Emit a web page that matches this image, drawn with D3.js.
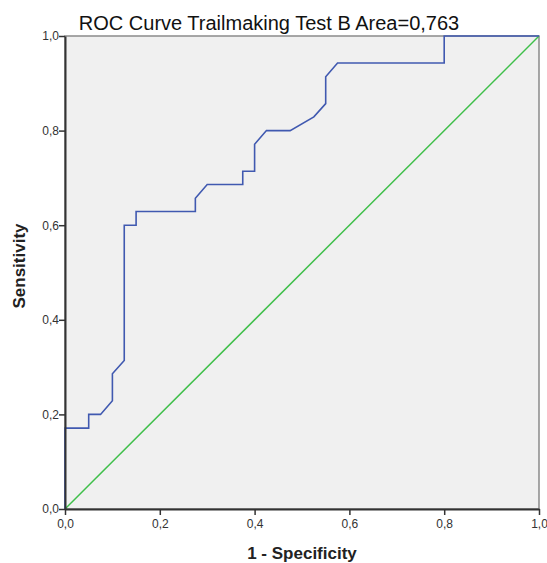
<!DOCTYPE html>
<html>
<head>
<meta charset="utf-8">
<script src="https://cdn.jsdelivr.net/npm/d3@7"></script>
<style>
  body { margin: 0; background: #fff; }
  text { font-family: "Liberation Sans", Arial, sans-serif; }
</style>
</head>
<body>
<svg id="roc" width="547" height="563"></svg>
<script>
// ROC points (1 - specificity, sensitivity)
var fpr = [0, 0, 0.05, 0.05, 0.075, 0.1, 0.1, 0.125, 0.125, 0.15, 0.15, 0.275, 0.275, 0.3, 0.375, 0.375,
           0.4, 0.4, 0.425, 0.475, 0.525, 0.55, 0.55, 0.575, 0.8, 0.8, 1];
var tpr = [0, 0.171, 0.171, 0.2, 0.2, 0.229, 0.286, 0.314, 0.6, 0.6, 0.629, 0.629, 0.657, 0.686, 0.686, 0.714,
           0.714, 0.771, 0.8, 0.8, 0.829, 0.857, 0.914, 0.943, 0.943, 1, 1];
var refLine = [0, 1];
var tickVals = [0, 0.2, 0.4, 0.6, 0.8, 1];
var titleText = "ROC Curve Trailmaking Test B Area=0,763";

var svg = d3.select("#roc");
var margin = {top: 36, right: 8, bottom: 54, left: 65};
var width = +svg.attr("width"), height = +svg.attr("height");

var x = d3.scaleLinear().domain([0, 1]).range([margin.left, width - margin.right]);
var y = d3.scaleLinear().domain([0, 1]).range([height - margin.bottom, margin.top]);

var fmt = function(d) { return d3.format(".1f")(d).replace(".", ","); };

// plot background + frame
svg.append("rect")
    .attr("x", x(0)).attr("y", y(1))
    .attr("width", x(1) - x(0)).attr("height", y(0) - y(1))
    .attr("fill", "#f0f0f0")
    .attr("stroke", "#8a8a8a")
    .attr("stroke-width", 1.5);

// reference diagonal
svg.append("line")
    .attr("x1", x(refLine[0])).attr("y1", y(refLine[0]))
    .attr("x2", x(refLine[1])).attr("y2", y(refLine[1]))
    .attr("stroke", "#3fbf4a")
    .attr("stroke-width", 1.5);

// ROC curve
var line = d3.line()
    .x(function(d, i) { return x(fpr[i]); })
    .y(function(d, i) { return y(tpr[i]); });

svg.append("path")
    .datum(fpr)
    .attr("d", line)
    .attr("fill", "none")
    .attr("stroke", "#4059b0")
    .attr("stroke-width", 1.6);

// axes
var xAxis = svg.append("g")
    .attr("transform", "translate(0," + y(0) + ")")
    .call(d3.axisBottom(x).tickValues(tickVals).tickSize(6).tickSizeOuter(0).tickFormat(fmt));
var yAxis = svg.append("g")
    .attr("transform", "translate(" + x(0) + ",0)")
    .call(d3.axisLeft(y).tickValues(tickVals).tickSize(6).tickSizeOuter(0).tickFormat(fmt));

[xAxis, yAxis].forEach(function(a) {
  a.select(".domain").attr("stroke", "#333").attr("stroke-width", 2);
  a.selectAll(".tick line").attr("stroke", "#333").attr("stroke-width", 1.5);
  a.selectAll(".tick text").attr("fill", "#333").style("font-size", "12px");
});
yAxis.selectAll(".tick text").attr("x", -6);
xAxis.selectAll(".tick text").attr("y", 10);

// title
svg.append("text")
    .attr("x", 269).attr("y", 30)
    .attr("text-anchor", "middle")
    .style("font-size", "20px")
    .attr("fill", "#111")
    .text(titleText);

// axis titles
svg.append("text")
    .attr("x", (x(0) + x(1)) / 2).attr("y", 559)
    .attr("text-anchor", "middle")
    .style("font-size", "17px").style("font-weight", "bold")
    .attr("fill", "#222")
    .text("1 - Specificity");

svg.append("text")
    .attr("transform", "translate(25,266) rotate(-90)")
    .attr("text-anchor", "middle")
    .style("font-size", "17px").style("font-weight", "bold")
    .attr("fill", "#222")
    .text("Sensitivity");
</script>
</body>
</html>
